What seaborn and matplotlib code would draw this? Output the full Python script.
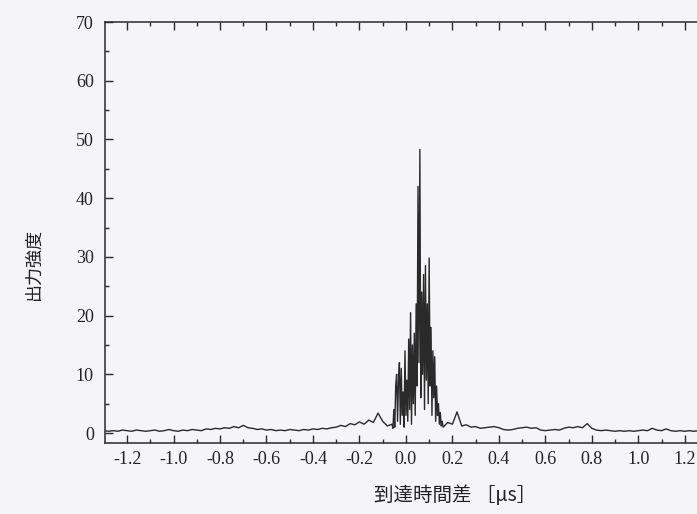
import numpy as np
import pandas as pd
import matplotlib
matplotlib.use("Agg")
import matplotlib.pyplot as plt
from matplotlib.ticker import MultipleLocator
import seaborn as sns

# --- data ---
# flat noise left of the main burst (step 0.02 us)
left_out = [0.4, 0.3, 0.4, 0.3, 0.5, 0.4, 0.3, 0.5, 0.4, 0.3,
            0.4, 0.5, 0.3, 0.4, 0.6, 0.4, 0.3, 0.5, 0.4, 0.6,
            0.5, 0.4, 0.7, 0.6, 0.8, 0.7, 0.9, 0.8, 1.1, 0.9,
            1.3, 0.9, 0.8, 0.6, 0.7, 0.5, 0.6, 0.4, 0.5, 0.4,
            0.6, 0.5, 0.4, 0.6, 0.5, 0.7, 0.6, 0.8, 0.7, 0.9,
            1.0, 1.3, 1.1, 1.6, 1.4, 1.9, 1.5, 2.2, 1.8, 3.4,
            2.0, 1.2]
left_start, left_end = -1.30, -0.08

# main burst (step 0.004 us)
core_out = [1.5, 0.8, 4.0, 1.0, 8.0, 10.0, 2.0, 9.0, 12.0, 1.5,
            11.0, 3.0, 7.0, 1.0, 14.0, 3.0, 9.0, 2.0, 16.0, 4.0,
            20.5, 1.5, 15.0, 5.0, 17.0, 3.0, 22.0, 8.0, 42.0, 12.0,
            48.3, 6.0, 24.0, 10.0, 27.0, 4.0, 28.5, 9.0, 22.0, 5.0,
            29.8, 8.0, 18.0, 3.0, 14.0, 6.0, 13.0, 2.0, 8.0, 3.0,
            5.0, 1.5, 3.5, 1.2, 2.0, 1.0]
core_start, core_end = -0.060, 0.160

# flat noise right of the burst (step 0.02 us)
right_out = [1.8, 1.5, 3.6, 1.2, 1.4, 1.0, 1.1, 0.8, 0.9, 1.0,
             1.1, 0.9, 0.6, 0.5, 0.6, 0.8, 0.9, 1.0, 0.8, 0.9,
             0.5, 0.4, 0.5, 0.6, 0.5, 0.8, 1.0, 0.9, 1.1, 0.9,
             1.6, 0.8, 0.5, 0.4, 0.5, 0.4, 0.3, 0.4, 0.3, 0.4,
             0.3, 0.4, 0.5, 0.4, 0.8, 0.5, 0.4, 0.7, 0.4, 0.3,
             0.4, 0.3, 0.4, 0.3, 0.4, 0.3, 0.3]
right_start, right_end = 0.18, 1.30

x_ticks = [-1.2, -1.0, -0.8, -0.6, -0.4, -0.2, 0.0, 0.2, 0.4, 0.6, 0.8, 1.0, 1.2]
y_ticks = [0, 10, 20, 30, 40, 50, 60, 70]

# sampling grid of each segment
t = np.concatenate([
    np.linspace(left_start, left_end, len(left_out)),
    np.linspace(core_start, core_end, len(core_out)),
    np.linspace(right_start, right_end, len(right_out)),
])
df = pd.DataFrame({"t": t, "out": left_out + core_out + right_out})

sns.set_theme(style="ticks")
plt.rcParams["font.family"] = ["Liberation Serif", "DejaVu Serif"]
plt.rcParams["axes.unicode_minus"] = False

bg = "#f5f5f7"
ink = "#2a2a2a"
fig = plt.figure(figsize=(6.97, 5.14), dpi=100, facecolor=bg)
ax = fig.add_axes([105 / 697, 1 - 443 / 514, 603 / 697, 421 / 514])
ax.set_facecolor(bg)

sns.lineplot(data=df, x="t", y="out", ax=ax, color=ink, linewidth=1.0,
             sort=False, estimator=None)

ax.set_xlim(-1.295, 1.30)
ax.set_ylim(-1.7, 70)
ax.set_xticks(x_ticks)
ax.set_xticklabels([f"{v:.1f}" for v in x_ticks])
ax.set_yticks(y_ticks)
ax.xaxis.set_minor_locator(MultipleLocator(0.1))
ax.yaxis.set_minor_locator(MultipleLocator(5))

ax.tick_params(which="both", direction="in", top=True, right=True,
               color=ink, width=1.0, labelsize=13, labelcolor="#222222")
ax.tick_params(which="major", length=6)
ax.tick_params(which="minor", length=3)
ax.tick_params(axis="x", pad=6)
ax.tick_params(axis="y", pad=8)
for s in ax.spines.values():
    s.set_color(ink)
    s.set_linewidth(1.1)

cjk = ["Noto Sans CJK JP", "DejaVu Sans"]
ax.set_xlabel("到達時間差 ［μs］", family=cjk, fontsize=14, color="#222222")
ax.xaxis.set_label_coords(0.58, -0.100)
ax.xaxis.label.set_va("top")
ax.set_ylabel("出力強度", family=cjk, fontsize=13, color="#222222")
ax.yaxis.set_label_coords(-0.119, 0.425)
ax.yaxis.label.set_va("center")

fig.savefig("out.png", dpi=100, facecolor=bg)
